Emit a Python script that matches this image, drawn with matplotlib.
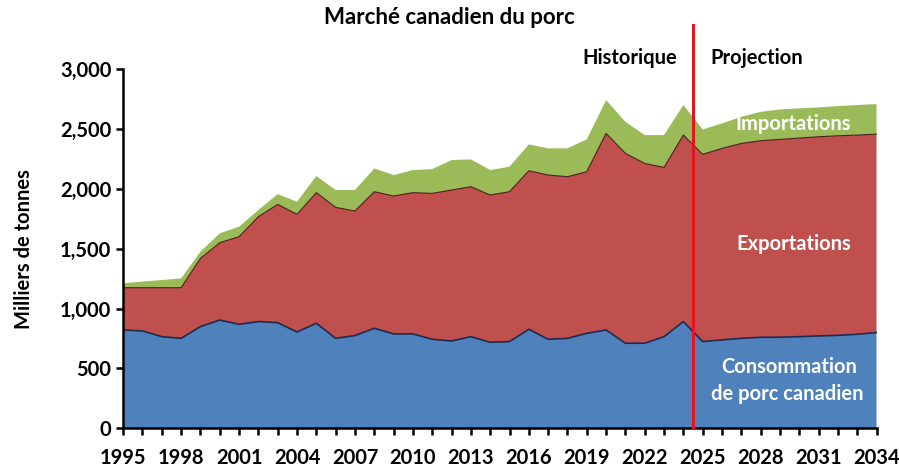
import matplotlib
matplotlib.use("Agg")
import matplotlib.pyplot as plt
import numpy as np

plt.rcParams['font.family'] = ['Lato', 'DejaVu Sans']
plt.rcParams['font.weight'] = 'bold'

years = list(range(1995, 2035))

# milliers de tonnes
consommation = [821, 813, 765, 751, 849, 904, 868, 891, 882, 804,
                877, 751, 774, 835, 788, 788, 743, 729, 765, 718,
                724, 827, 743, 751, 793, 821, 710, 710, 765, 891,
                724, 738, 751, 760, 760, 765, 771, 776, 785, 799]
exportations = [353, 361, 409, 423, 570, 646, 732, 876, 988, 983,
                1091, 1094, 1041, 1141, 1152, 1180, 1219, 1261, 1253, 1230,
                1252, 1324, 1372, 1350, 1350, 1642, 1586, 1502, 1414, 1558,
                1564, 1600, 1628, 1642, 1653, 1659, 1664, 1667, 1664, 1658]
importations = [37, 51, 64, 78, 56, 78, 84, 56, 86, 105,
                139, 145, 175, 195, 175, 189, 203, 250, 228, 209,
                209, 220, 223, 237, 270, 278, 264, 237, 270, 251,
                208, 208, 223, 241, 250, 248, 245, 248, 251, 251]

tick_years = list(range(1995, 2035, 3))

fig = plt.figure(figsize=(8.99, 4.67), dpi=100)
ax = fig.add_axes([0.137, 0.083, 0.838, 0.769])

ax.stackplot(years, consommation, exportations, importations,
             colors=['#4F81BD', '#C0504D', '#9BBB59'], linewidth=0)

# contours sombres en haut des couches bleue et rouge
cons = np.array(consommation)
prod = cons + np.array(exportations)
ax.plot(years, cons, color='#1F2A4F', lw=1.2)
ax.plot(years, prod, color='#4A1E1E', lw=0.8)

# ligne historique / projection
ax.plot([2024.5, 2024.5], [0, 3370], color='#E8141B', lw=2.2, clip_on=False, zorder=5)

ax.set_xlim(1995, 2034)
ax.set_ylim(0, 3000)
ax.set_xticks(years, minor=True)
ax.set_xticks(tick_years)
ax.set_xticklabels([str(y) for y in tick_years])
ax.set_yticks(range(0, 3001, 500))
ax.set_yticklabels(['{:,}'.format(v) for v in range(0, 3001, 500)])

for s in ['top', 'right']:
    ax.spines[s].set_visible(False)
for s in ['left', 'bottom']:
    ax.spines[s].set_linewidth(1.8)
ax.tick_params(axis='both', which='both', direction='out', width=1.8, length=5,
               labelsize=14.5, colors='black')
ax.tick_params(axis='x', pad=9)
ax.set_ylabel('Milliers de tonnes', fontsize=14.5, fontweight='bold', labelpad=19)

fig.text(0.5, 0.963, 'Marché canadien du porc', ha='center', va='center',
         fontsize=16, fontweight='bold')
fig.text(0.70, 0.876, 'Historique', ha='center', va='center', fontsize=14.5, fontweight='bold')
fig.text(0.842, 0.876, 'Projection', ha='center', va='center', fontsize=14.5, fontweight='bold')

ax.text(2029.7, 2545, 'Importations', color='white', ha='center', va='center',
        fontsize=14.5, fontweight='bold')
ax.text(2029.7, 1540, 'Exportations', color='white', ha='center', va='center',
        fontsize=14.5, fontweight='bold')
ax.text(2029.5, 510, 'Consommation', color='white', ha='center', va='center',
        fontsize=14.5, fontweight='bold')
ax.text(2029.4, 290, 'de porc canadien', color='white', ha='center', va='center',
        fontsize=14.5, fontweight='bold')

fig.savefig('out.png', dpi=100)
